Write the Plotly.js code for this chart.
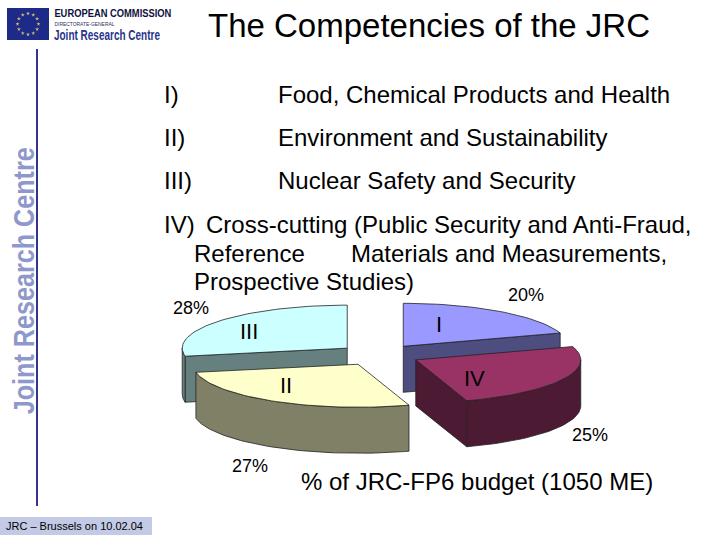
<!DOCTYPE html>
<html><head><meta charset="utf-8">
<script src="https://cdn.plot.ly/plotly-3.0.1.min.js"></script>
<style>html,body{margin:0;padding:0;background:#fff}</style></head>
<body><div id="chart" style="width:720px;height:540px"></div>
<script>
// Data
const sliceNames = ["I", "IV", "II", "III"];
const sliceValues = [20, 25, 27, 28];
const topColors = ["#9999FF", "#993366", "#FFFFCC", "#CCFFFF"];
const sideColors = ["#4D4D80", "#4D1A33", "#808066", "#668080"];
const bulletLabels = ["I)", "II)", "III)"];
const bulletTexts = ["Food, Chemical Products and Health", "Environment and Sustainability", "Nuclear Safety and Security"];

// Pie geometry
const CX = 379, CY = 355, RX = 165, RY = 43, DEPTH = 46, PULL = 0.25;
const rad = d => d * Math.PI / 180;
const total = sliceValues.reduce((a, b) => a + b, 0);
let acc = 0;
const slices = sliceValues.map((v, i) => {
  const a0 = acc / total * 360; acc += v; const a1 = acc / total * 360;
  const m = (a0 + a1) / 2;
  return {i, a0, a1, cx: CX + PULL * RX * Math.sin(rad(m)), cy: CY - PULL * RY * Math.cos(rad(m))};
});
const pt = (s, a, dz = 0) => [s.cx + RX * Math.sin(rad(a)), s.cy - RY * Math.cos(rad(a)) + dz];
const arc = (s, a0, a1, dz = 0) => {
  const out = [], n = Math.max(2, Math.ceil(Math.abs(a1 - a0) / 2));
  for (let k = 0; k <= n; k++) out.push(pt(s, a0 + (a1 - a0) * k / n, dz));
  return out;
};
const traces = [];
const poly = (pts, fill, lw = 0.8) => traces.push({
  type: "scatter", mode: "lines", x: pts.map(p => p[0]).concat(pts[0][0]), y: pts.map(p => p[1]).concat(pts[0][1]),
  fill: "toself", fillcolor: fill, line: {color: "#222", width: lw}, hoverinfo: "skip", showlegend: false
});
const wall = (s, a0, a1) => poly(arc(s, a0, a1).concat(arc(s, a0, a1, DEPTH).reverse()), sideColors[s.i]);
const radial = (s, a) => poly([[s.cx, s.cy], pt(s, a), pt(s, a, DEPTH), [s.cx, s.cy + DEPTH]], sideColors[s.i]);
const topFace = s => poly([[s.cx, s.cy]].concat(arc(s, s.a0, s.a1)), topColors[s.i]);

const [sI, sIV, sII, sIII] = slices;
// back to front
radial(sIII, sIII.a0); wall(sIII, sIII.a0, 270); topFace(sIII);
radial(sI, sI.a1); topFace(sI);
wall(sII, sII.a0, sII.a1); topFace(sII);
radial(sIV, sIV.a1); wall(sIV, 90, sIV.a1); topFace(sIV);

// EU flag stars
const sx = [], sy = [];
for (let k = 0; k < 12; k++) { sx.push(28 + 10.5 * Math.cos(rad(k * 30))); sy.push(24 + 10.5 * Math.sin(rad(k * 30))); }
traces.push({type: "scatter", mode: "markers", x: sx, y: sy, marker: {symbol: "star", size: 3, color: "#C8C070"}, hoverinfo: "skip", showlegend: false});

const SANS = "Liberation Sans, Arial, sans-serif";
const ann = (text, x, y, size, o = {}) => ({
  text, x, y, xref: "x", yref: "y", showarrow: false, xanchor: o.anchor || "left", yanchor: "middle",
  textangle: o.angle || 0, borderpad: 0,
  font: {family: SANS, size, color: o.color || "#000", weight: o.weight || "normal"}
});
const annotations = [
  ann("EUROPEAN COMMISSION", 112.5, 13, 11.5, {color: "#101040", weight: "bold", anchor: "center"}),
  ann("DIRECTORATE-GENERAL", 84, 23.5, 5, {color: "#303060", anchor: "center"}),
  ann("Joint Research Centre", 107, 34.5, 14.5, {color: "#27348B", weight: "bold", anchor: "center"}),
  ann("Joint Research Centre", 23, 281, 30, {color: "#8F98CC", weight: "bold", angle: -90, anchor: "center"}),
  ann("The Competencies of the JRC", 429, 25, 33, {anchor: "center"}),
  ann("JRC – Brussels on 10.02.04", 5, 526, 11),
  ann("IV)", 163, 224, 24),
  ann("Cross-cutting (Public Security and Anti-Fraud,", 205, 224, 24),
  ann("Reference", 193, 253, 24),
  ann("Materials and Measurements,", 350, 253, 24),
  ann("Prospective Studies)", 193, 281, 24),
  ann("% of JRC-FP6 budget (1050 ME)", 300, 481, 24)
];
// condensed wordmarks: annotation index -> drawn length
const condensed = {0: 117, 1: 60, 2: 106, 3: 267};
bulletLabels.forEach((t, i) => {
  const y = [94, 137, 180][i];
  annotations.push(ann(t, 163, y, 24), ann(bulletTexts[i], 277, y, 24));
});
const namePos = {I: [439, 324], IV: [474, 378], II: [286, 385], III: [249, 331]};
const pctPos = {I: [526, 295], IV: [590, 435], II: [250, 466], III: [191, 308]};
sliceNames.forEach((n, i) => {
  annotations.push(ann(n, namePos[n][0], namePos[n][1], 22, {anchor: "center"}));
  annotations.push(ann(sliceValues[i] + "%", pctPos[n][0], pctPos[n][1], 18, {anchor: "center"}));
});

const rect = (x0, y0, x1, y1, color) => ({type: "rect", xref: "x", yref: "y", x0, y0, x1, y1, fillcolor: color, line: {width: 0}, layer: "below"});
const shapes = [
  rect(7, 8, 49, 40, "#1E2A87"),
  rect(0, 517, 152, 535, "#C2CAE6"),
  rect(36, 49, 38, 506, "#34348C")
];
const axis = {visible: false, showgrid: false, zeroline: false, fixedrange: true};
Plotly.newPlot("chart", traces, {
  width: 720, height: 540, margin: {l: 0, r: 0, t: 0, b: 0}, paper_bgcolor: "#fff", plot_bgcolor: "#fff",
  xaxis: {...axis, range: [0, 720]}, yaxis: {...axis, range: [540, 0]},
  annotations, shapes, showlegend: false
}, {staticPlot: true, displayModeBar: false}).then(() => {
  Object.entries(condensed).forEach(([idx, len]) => {
    const t = document.querySelector('.annotation[data-index="' + idx + '"] text');
    if (t) { t.setAttribute("textLength", len); t.setAttribute("lengthAdjust", "spacingAndGlyphs"); }
  });
});
</script></body></html>
